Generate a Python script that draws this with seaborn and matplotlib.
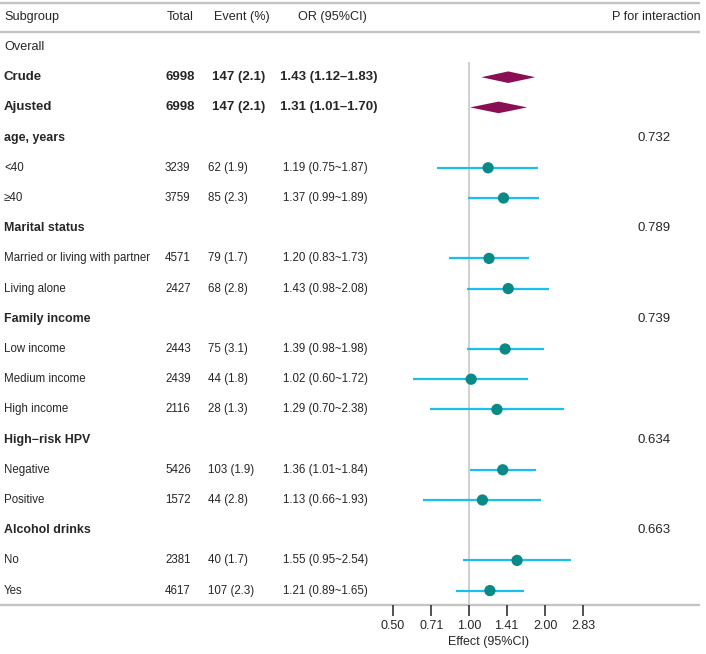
import numpy as np
import pandas as pd
import matplotlib
matplotlib.use("Agg")
import matplotlib.pyplot as plt
import seaborn as sns

# ---------------- data ----------------
labels = ["Overall", "Crude", "Ajusted",
          "age, years", "<40", "\u226540",
          "Marital status", "Married or living with partner", "Living alone",
          "Family income", "Low income", "Medium income", "High income",
          "High\u2212risk HPV", "Negative", "Positive",
          "Alcohol drinks", "No", "Yes"]
# row kinds: 'plain' (Overall), 'overall' (bold with diamond), 'group' (bold header), 'item'
kinds = ["plain", "overall", "overall",
         "group", "item", "item",
         "group", "item", "item",
         "group", "item", "item", "item",
         "group", "item", "item",
         "group", "item", "item"]
totals = [None, 6998, 6998, None, 3239, 3759, None, 4571, 2427, None, 2443, 2439, 2116,
          None, 5426, 1572, None, 2381, 4617]
events = [None, 147, 147, None, 62, 85, None, 79, 68, None, 75, 44, 28, None, 103, 44, None, 40, 107]
pcts = [None, 2.1, 2.1, None, 1.9, 2.3, None, 1.7, 2.8, None, 3.1, 1.8, 1.3, None, 1.9, 2.8, None, 1.7, 2.3]
ors = [None, 1.43, 1.31, None, 1.19, 1.37, None, 1.20, 1.43, None, 1.39, 1.02, 1.29, None, 1.36, 1.13, None, 1.55, 1.21]
lows = [None, 1.12, 1.01, None, 0.75, 0.99, None, 0.83, 0.98, None, 0.98, 0.60, 0.70, None, 1.01, 0.66, None, 0.95, 0.89]
highs = [None, 1.83, 1.70, None, 1.87, 1.89, None, 1.73, 2.08, None, 1.98, 1.72, 2.38, None, 1.84, 1.93, None, 2.54, 1.65]
p_inter = [None, None, None, "0.732", None, None, "0.789", None, None, "0.739", None, None, None,
           "0.634", None, None, "0.663", None, None]
tick_vals = [0.50, 0.71, 1.00, 1.41, 2.00, 2.83]

df = pd.DataFrame({"label": labels, "kind": kinds, "total": totals, "event": events,
                   "pct": pcts, "or": ors, "lo": lows, "hi": highs, "p": p_inter})
df["row"] = np.arange(len(df))

# ---------------- style ----------------
sns.set_theme(style="white")
plt.rcParams["font.family"] = ["Liberation Sans", "DejaVu Sans"]

W, H = 706, 654
fig = plt.figure(figsize=(W / 100, H / 100), dpi=100)

bg = fig.add_axes([0, 0, 1, 1])
bg.set_xlim(0, W)
bg.set_ylim(H, 0)
bg.axis("off")

ROW0, DY = 47, 30.2
def ypx(r):
    return ROW0 + DY * r

line_col = "#C4C4C4"
for yy in (3, 32, 605):
    bg.plot([0, 700], [yy, yy], color=line_col, lw=1.7, solid_capstyle="butt")

# header
hdr_fs = 9.1
bg.text(4, 17, "Subgroup", fontsize=hdr_fs, va="center", ha="left")
bg.text(167, 17, "Total", fontsize=hdr_fs, va="center", ha="left")
bg.text(214, 17, "Event (%)", fontsize=hdr_fs, va="center", ha="left")
bg.text(298, 17, "OR (95%CI)", fontsize=hdr_fs, va="center", ha="left")
bg.text(701, 17, "P for interaction", fontsize=hdr_fs, va="center", ha="right")

for _, r in df.iterrows():
    y = ypx(r["row"])
    k = r["kind"]
    if k == "plain":
        bg.text(4, y, r["label"], fontsize=9.1, va="center")
    elif k == "overall":
        bg.text(4, y, r["label"], fontsize=9.5, fontweight="bold", va="center")
        bg.text(166, y, f"{int(r['total'])}", fontsize=9.5, fontweight="bold", va="center")
        bg.text(212, y, f"{int(r['event'])} ({r['pct']:.1f})", fontsize=9.5, fontweight="bold", va="center")
        bg.text(280, y, f"{r['or']:.2f} ({r['lo']:.2f}\u2013{r['hi']:.2f})", fontsize=9.5,
                fontweight="bold", va="center")
    elif k == "group":
        bg.text(4, y, r["label"], fontsize=8.9, fontweight="bold", va="center")
        if r["p"]:
            bg.text(637, y, r["p"], fontsize=9.5, va="center")
    else:
        bg.text(4, y, r["label"], fontsize=8.3, va="center")
        bg.text(165, y, f"{int(r['total'])}", fontsize=8.3, va="center")
        bg.text(208, y, f"{int(r['event'])} ({r['pct']:.1f})", fontsize=8.3, va="center")
        bg.text(283, y, f"{r['or']:.2f} ({r['lo']:.2f}~{r['hi']:.2f})", fontsize=8.3, va="center")

bg.text(488, 642, "Effect (95%CI)", fontsize=9, va="center", ha="center")

# ---------------- forest axes ----------------
x0_px, x1_px = 393, 700
top_px, bot_px = 32, 605
px_per_doubling = 76.0
fx = fig.add_axes([x0_px / W, 1 - bot_px / H, (x1_px - x0_px) / W, (bot_px - top_px) / H])
fx.patch.set_alpha(0)
fx.set_xscale("log", base=2)
fx.set_xlim(0.5, 0.5 * 2 ** ((x1_px - x0_px) / px_per_doubling))
fx.set_ylim((bot_px - ROW0) / DY, (top_px - ROW0) / DY)
for s in fx.spines.values():
    s.set_visible(False)
fx.set_yticks([])
fx.set_xticks(tick_vals)
fx.set_xticklabels([f"{v:.2f}" for v in tick_vals])
fx.xaxis.set_minor_locator(matplotlib.ticker.NullLocator())
fx.tick_params(axis="x", bottom=True, length=8, width=1.1, color="#222222",
               labelsize=9, pad=3, direction="out")

# reference line
fx.vlines(1.0, 0.5, (bot_px - ROW0) / DY, color="#C8C8C8", lw=1.2, zorder=1)

items = df[df["kind"] == "item"]
fx.hlines(items["row"], items["lo"], items["hi"], color="#17C0F0", lw=1.6, zorder=2)
sns.scatterplot(data=items, x="or", y="row", ax=fx, color="#0A8A84", s=66,
                edgecolor="none", zorder=3, legend=False)

ov = df[df["kind"] == "overall"]
hh = 5.8 / DY
for _, r in ov.iterrows():
    xs = [r["lo"], r["or"], r["hi"], r["or"]]
    ys = [r["row"], r["row"] - hh, r["row"], r["row"] + hh]
    fx.fill(xs, ys, color="#8A0F52", lw=0, zorder=3)

fx.set_xlabel("")
fx.set_ylabel("")
fx.set_ylim((bot_px - ROW0) / DY, (top_px - ROW0) / DY)

fig.savefig("out.png", dpi=100)
